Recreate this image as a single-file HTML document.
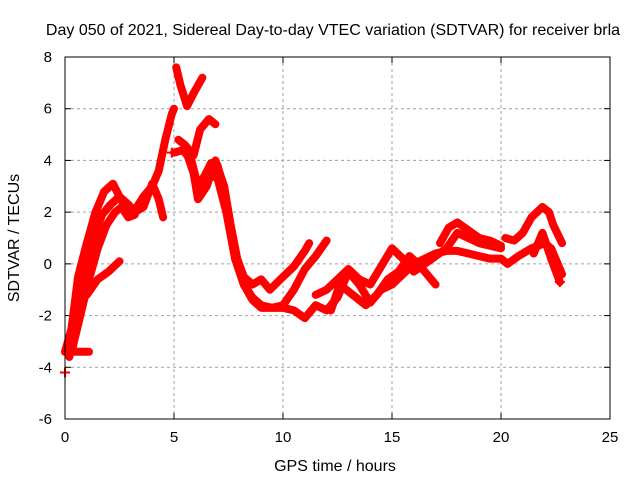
<!DOCTYPE html>
<html><head><meta charset="utf-8"><style>
body{margin:0;background:#fff}
svg text{font-family:"Liberation Sans",sans-serif;font-size:15px;fill:#000}
</style></head><body>
<svg id="chart" width="640" height="480" xmlns="http://www.w3.org/2000/svg">
<text x="333" y="35" text-anchor="middle" style="font-size:16px">Day 050 of 2021, Sidereal Day-to-day VTEC variation (SDTVAR) for receiver brla</text>
<text transform="translate(19,238) rotate(-90)" text-anchor="middle" style="font-size:16px">SDTVAR / TECUs</text>
<text x="335" y="471" text-anchor="middle" style="font-size:16px">GPS time / hours</text>
<g id="grid"></g><g id="ticks"></g><g id="series"></g>
<rect x="65" y="57" width="545" height="362" fill="none" stroke="#000" stroke-width="1"/>
</svg>
<script>
const xTicks=[0,5,10,15,20,25];
const yTicks=[-6,-4,-2,0,2,4,6,8];
const trackA=[[0.0,-3.4],[0.3,-2.5],[0.6,-0.5],[1.0,0.8],[1.4,2.0],[1.8,2.8],[2.2,3.1],[2.5,2.6],[2.9,2.0],[3.3,2.2],[3.6,2.6],[4.0,3.0],[4.3,3.6],[4.6,4.8],[4.9,5.8],[5.0,6.0]];
const trackB=[[0.2,-3.6],[0.5,-2.2],[0.9,-0.5],[1.3,1.0],[1.7,1.9],[2.1,2.3],[2.5,2.6],[2.9,2.3],[3.2,2.0],[3.6,2.2],[4.0,3.1],[4.3,2.5],[4.5,1.8]];
const trackC=[[0.3,-3.4],[0.7,-2.0],[1.1,-0.6],[1.5,0.6],[1.9,1.5],[2.3,2.0],[2.6,2.2],[2.9,1.8],[3.2,1.9]];
const trackD=[[0.5,-1.5],[1.0,-1.2],[1.5,-0.6],[2.0,-0.3],[2.5,0.1]];
const trackE=[[0.0,-3.4],[0.5,-3.4],[1.1,-3.4]];
const trackPeak=[[5.1,7.6],[5.3,6.9],[5.6,6.1],[5.9,6.6],[6.3,7.2]];
const trackM1=[[5.2,4.8],[5.5,4.6],[5.9,4.2],[6.2,5.2],[6.6,5.6],[6.9,5.4]];
const trackM2=[[5.0,4.3],[5.4,4.4],[5.8,4.0],[6.1,3.0],[6.4,3.4],[6.7,3.9],[7.0,3.8],[7.3,2.8],[7.6,1.2],[7.9,0.0],[8.2,-0.8],[8.6,-1.3],[9.0,-1.6],[9.5,-1.7],[10.0,-1.6],[10.5,-1.0],[11.0,-0.2],[11.5,0.3],[12.0,0.9]];
const trackM3=[[5.5,4.5],[5.9,3.5],[6.1,2.5],[6.5,3.0],[6.9,4.0],[7.3,3.0],[7.6,1.5],[7.9,0.2],[8.2,-0.5],[8.6,-0.8],[9.0,-0.6],[9.4,-1.0],[10.0,-0.5],[10.5,-0.1],[11.0,0.5],[11.2,0.8]];
const trackM4=[[6.2,2.8],[6.6,3.5],[7.0,3.3],[7.4,2.0],[7.8,0.2],[8.2,-0.8],[8.6,-1.4],[9.0,-1.7],[9.5,-1.7],[10.0,-1.7],[10.5,-1.8],[11.0,-2.1],[11.5,-1.6],[12.0,-1.8],[12.5,-1.3],[13.0,-0.3],[13.5,-0.8],[14.0,-1.5],[14.5,-1.0],[15.0,-0.8],[15.5,-0.4],[16.0,0.0],[16.5,0.2],[17.0,0.4],[17.5,0.5],[18.0,0.5],[18.5,0.4],[19.0,0.3],[19.5,0.2],[20.0,0.2],[20.3,0.0]];
const trackR2=[[11.5,-1.2],[12.0,-1.0],[12.5,-0.6],[13.0,-0.2],[13.5,-0.6],[14.0,-0.8],[14.5,-0.1],[15.0,0.6],[15.5,0.2],[16.0,-0.3],[16.5,0.0],[17.0,0.3],[17.5,0.6],[18.0,1.2],[18.5,1.0],[19.0,0.8],[19.5,0.7],[20.0,0.6]];
const trackR3=[[12.2,-1.8],[12.6,-0.8],[13.2,-1.2],[13.8,-1.6],[14.3,-1.2],[14.8,-0.6],[15.3,-0.3],[15.8,0.3],[16.2,0.0],[16.6,-0.4],[17.0,-0.8]];
const trackR4=[[17.2,0.8],[17.6,1.4],[18.0,1.6],[18.5,1.3],[19.0,1.0],[19.5,0.9],[20.0,0.7]];
const trackR5=[[20.2,1.0],[20.6,0.9],[21.0,1.2],[21.4,1.8],[21.9,2.2],[22.2,2.0],[22.4,1.5],[22.8,0.8]];
const trackR6=[[20.3,0.0],[20.8,0.3],[21.4,0.6],[22.0,0.8],[22.3,0.6],[22.6,0.0],[22.8,-0.4]];
const trackR7=[[21.5,0.4],[21.9,1.2],[22.3,0.2],[22.7,-0.7]];
const singlePoints=[[0.0,-4.2],[22.7,-0.7],[4.9,4.3]];
const tracks=[trackA,trackB,trackC,trackD,trackE,trackPeak,trackM1,trackM2,trackM3,trackM4,trackR2,trackR3,trackR4,trackR5,trackR6,trackR7];
const NS="http://www.w3.org/2000/svg";
const X0=65,X1=610,Y0=419,Y1=57;
function xs(h){return X0+(h-0)/(25-0)*(X1-X0);}
function ys(v){return Y0-(v+6)/(8+6)*(Y0-Y1);}
const grid=document.getElementById('grid'),ticks=document.getElementById('ticks'),series=document.getElementById('series');
function mk(t,a,p){const e=document.createElementNS(NS,t);for(const k in a)e.setAttribute(k,a[k]);p.appendChild(e);return e;}
xTicks.forEach(t=>{const x=xs(t);
 if(t>0&&t<25){const g=mk('line',{x1:x,x2:x,y1:Y1,y2:Y0,stroke:'#a0a0a0','stroke-dasharray':'3,3'},grid);
 
 }
 mk('line',{x1:x,x2:x,y1:Y0,y2:Y0-6,stroke:'#000'},ticks);mk('line',{x1:x,x2:x,y1:Y1,y2:Y1+6,stroke:'#000'},ticks);
 const l=mk('text',{x:x,y:442,'text-anchor':'middle'},ticks);l.textContent=t;
 
 });
yTicks.forEach(t=>{const y=ys(t);
 if(t>-6&&t<8){const g=mk('line',{x1:X0,x2:X1,y1:y,y2:y,stroke:'#a0a0a0','stroke-dasharray':'3,3'},grid);
 
 }
 mk('line',{x1:X0,x2:X0+6,y1:y,y2:y,stroke:'#000'},ticks);mk('line',{x1:X1,x2:X1-6,y1:y,y2:y,stroke:'#000'},ticks);
 const l=mk('text',{x:52,y:y+5,'text-anchor':'end'},ticks);l.textContent=t;
 
 });
tracks.forEach(tr=>{const p=mk('polyline',{points:tr.map(d=>xs(d[0])+','+ys(d[1])).join(' '),fill:'none',stroke:'#ff0000','stroke-width':8,'stroke-linejoin':'round','stroke-linecap':'round'},series);
 
 });
singlePoints.forEach(d=>{const p=mk('path',{d:`M${xs(d[0])-5},${ys(d[1])}h10M${xs(d[0])},${ys(d[1])-5}v10`,stroke:'#ff0000','stroke-width':2},series);
 
 });
</script>
</body></html>
